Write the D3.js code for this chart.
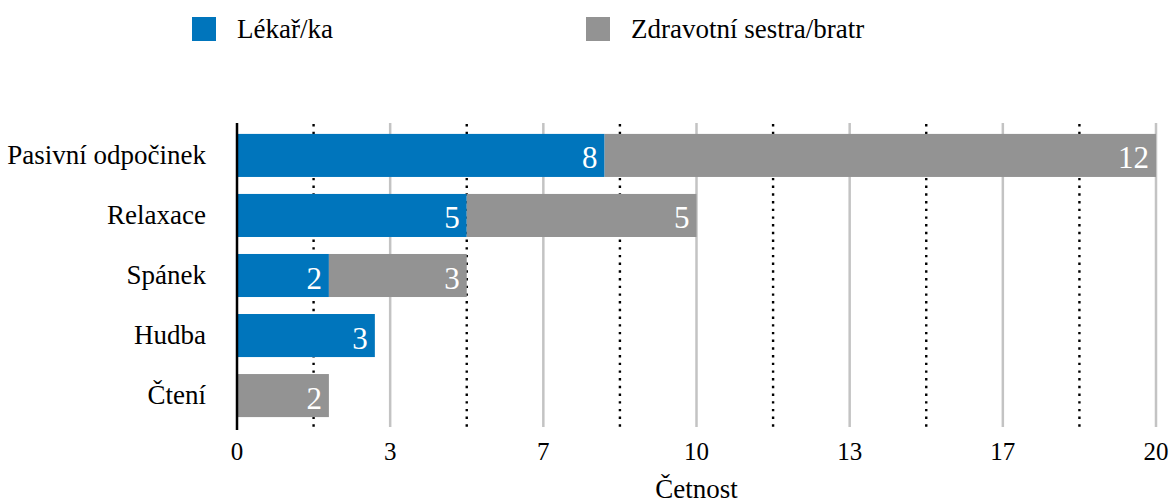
<!DOCTYPE html>
<html><head><meta charset="utf-8">
<script src="https://cdn.jsdelivr.net/npm/d3@7"></script>
</head><body style="margin:0;background:#fff">
<svg id="c" width="1172" height="504" font-family="'Liberation Serif'"></svg>
<script>
const categories = ["Pasivní odpočinek","Relaxace","Spánek","Hudba","Čtení"];
const seriesNames = ["Lékař/ka","Zdravotní sestra/bratr"];
const doctors = [8,5,2,3,0];
const nurses = [12,5,3,0,2];
const seriesColors = ["#0075bc","#939393"];
const tickValues = [0,10/3,20/3,10,40/3,50/3,20];
const tickLabels = ["0","3","7","10","13","17","20"];
const minorTicks = [5/3,5,25/3,35/3,15,55/3];
const axisTitle = "Četnost";

const svg = d3.select("#c");
const x = d3.scaleLinear().domain([0,20]).range([237,1156]);
const y = d3.scaleBand().domain(categories).range([122.5,428.5]).paddingInner(0.283).paddingOuter(0.19);

svg.append("g").selectAll("line").data(tickValues.slice(1)).join("line")
  .attr("x1",d=>x(d)).attr("x2",d=>x(d)).attr("y1",123).attr("y2",427)
  .attr("stroke","#c3c3c3").attr("stroke-width",2.5);
svg.append("g").selectAll("line").data(minorTicks).join("line")
  .attr("x1",d=>x(d)).attr("x2",d=>x(d)).attr("y1",124).attr("y2",427)
  .attr("stroke","#000").attr("stroke-width",2.4).attr("stroke-dasharray","2.4,5.3");

const data = categories.map((c,i)=>({cat:c, v:[doctors[i],nurses[i]]}));
const segs = [];
data.forEach(d=>{let acc=0; d.v.forEach((v,s)=>{ if(v>0) segs.push({cat:d.cat,s,x0:acc,x1:acc+v,v}); acc+=v;});});

svg.append("g").selectAll("rect").data(segs).join("rect")
  .attr("x",d=>x(d.x0)).attr("width",d=>x(d.x1)-x(d.x0))
  .attr("y",d=>y(d.cat)).attr("height",y.bandwidth())
  .attr("fill",d=>seriesColors[d.s]);

svg.append("g").selectAll("text").data(segs).join("text")
  .attr("x",d=>x(d.x1)-7).attr("y",d=>y(d.cat)+y.bandwidth()/2+13)
  .attr("text-anchor","end").attr("fill","#fff").attr("font-size",31)
  .text(d=>d.v);

svg.append("line").attr("x1",x(0)).attr("x2",x(0)).attr("y1",123).attr("y2",430)
  .attr("stroke","#000").attr("stroke-width",2.5);

svg.append("g").selectAll("text").data(categories).join("text")
  .attr("x",206).attr("y",d=>y(d)+y.bandwidth()/2+8.5)
  .attr("text-anchor","end").attr("font-size",27).attr("fill","#000")
  .text(d=>d);

svg.append("g").selectAll("text").data(tickValues).join("text")
  .attr("x",d=>x(d)).attr("y",460)
  .attr("text-anchor","middle").attr("font-size",25).attr("fill","#000")
  .text((d,i)=>tickLabels[i]);

svg.append("text").attr("x",x(10)).attr("y",498).attr("text-anchor","middle")
  .attr("font-size",27).attr("fill","#000").text(axisTitle);

const legX = [192,586];
const lg = svg.append("g").selectAll("g").data(seriesNames).join("g");
lg.append("rect").attr("x",(d,i)=>legX[i]).attr("y",17).attr("width",24).attr("height",24)
  .attr("fill",(d,i)=>seriesColors[i]);
lg.append("text").attr("x",(d,i)=>legX[i]+45).attr("y",38).attr("font-size",27).attr("fill","#000")
  .text(d=>d);
</script>
</body></html>
